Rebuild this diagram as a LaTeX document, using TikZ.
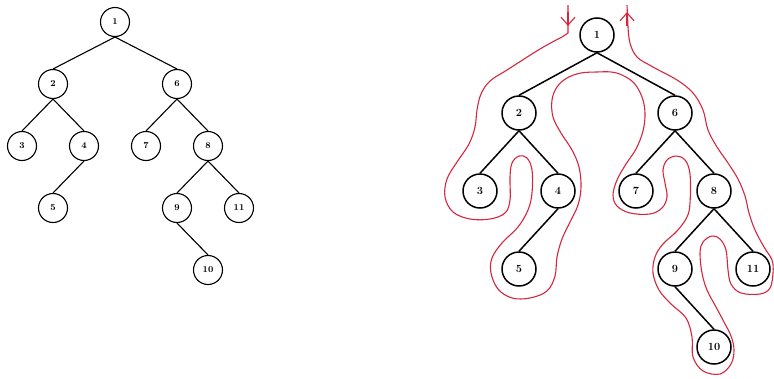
\documentclass[tikz,border=0pt]{standalone}
\usepackage{amsmath,amssymb}
\usepackage{tikz}
\usetikzlibrary{arrows.meta, positioning}
\definecolor{tourred}{RGB}{214,38,62}

\begin{document}
\begin{tikzpicture}[
    x=1pt, y=-1pt,
    on grid,
    vertex/.style={circle, draw=black, line width=1.1pt, minimum size=29pt, inner sep=0pt, font=\fontsize{9}{10}\selectfont\bfseries},
    bigvertex/.style={circle, draw=black, line width=1.5pt, minimum size=34pt, inner sep=0pt, font=\fontsize{11}{12}\selectfont\bfseries},
    link/.style={line width=1.1pt},
    biglink/.style={line width=1.5pt},
    tour/.style={draw=tourred, line width=1.1pt},
    tourtip/.style={tour, -{Straight Barb[length=8pt,width=14pt]}}
]
\useasboundingbox (0,0) rectangle (774,378);

% Left tree
\begin{scope}[node distance=62pt and 31pt]
\node [vertex] (a1) at (115,22) {1};
\node [vertex, below left=62pt and 62pt of a1] (a2) {2};
\node [vertex, below right=62pt and 62pt of a1] (a6) {6};
\node [vertex, below left=of a2] (a3) {3};
\node [vertex, below right=of a2] (a4) {4};
\node [vertex, below left=of a4] (a5) {5};
\node [vertex, below left=of a6] (a7) {7};
\node [vertex, below right=of a6] (a8) {8};
\node [vertex, below left=of a8] (a9) {9};
\node [vertex, below right=of a8] (a11) {11};
\node [vertex, below right=of a9] (a10) {10};
\end{scope}

\draw [link] (a1.south) -- (a2.north);
\draw [link] (a1.south) -- (a6.north);
\draw [link] (a2.south) -- (a3.north);
\draw [link] (a2.south) -- (a4.north);
\draw [link] (a4.south) -- (a5.north);
\draw [link] (a6.south) -- (a7.north);
\draw [link] (a6.south) -- (a8.north);
\draw [link] (a8.south) -- (a9.north);
\draw [link] (a8.south) -- (a11.north);
\draw [link] (a9.south) -- (a10.north);

% Right tree
\begin{scope}[node distance=78pt and 39pt]
\node [bigvertex] (b1) at (597,35) {1};
\node [bigvertex, below left=78pt and 78pt of b1] (b2) {2};
\node [bigvertex, below right=78pt and 78pt of b1] (b6) {6};
\node [bigvertex, below left=of b2] (b3) {3};
\node [bigvertex, below right=of b2] (b4) {4};
\node [bigvertex, below left=of b4] (b5) {5};
\node [bigvertex, below left=of b6] (b7) {7};
\node [bigvertex, below right=of b6] (b8) {8};
\node [bigvertex, below left=of b8] (b9) {9};
\node [bigvertex, below right=of b8] (b11) {11};
\node [bigvertex, below right=of b9] (b10) {10};
\end{scope}

\draw [biglink] (b1.south) -- (b2.north);
\draw [biglink] (b1.south) -- (b6.north);
\draw [biglink] (b2.south) -- (b3.north);
\draw [biglink] (b2.south) -- (b4.north);
\draw [biglink] (b4.south) -- (b5.north);
\draw [biglink] (b6.south) -- (b7.north);
\draw [biglink] (b6.south) -- (b8.north);
\draw [biglink] (b8.south) -- (b9.north);
\draw [biglink] (b8.south) -- (b11.north);
\draw [biglink] (b9.south) -- (b10.north);

% Euler tour round the right tree
\coordinate (tin) at (568,5);
\coordinate (tout) at (627,5);
\draw [tour] (tin) -- (568,33) -- plot [smooth, tension=0.6] coordinates {
    (562,37) (540,49) (507,70) (490,81) (481,94) (477,110) (475,127) (469,144)
    (457,162) (447,179) (445,197) (453,212) (470,219) (490,219) (505,213)
    (510,200) (510,177) (512,163) (519,156) (527,158) (532,170) (532,193)
    (528,210) (518,227) (502,243) (492,258) (491,273) (498,289) (512,298)
    (530,298) (547,291) (555,276) (557,257) (562,239) (570,222) (578,205)
    (581,187) (579,167) (572,150) (561,133) (553,117) (552,100) (557,87)
    (567,78) (581,73) (597,72) (611,72) (622,75) (634,83) (642,97) (645,113)
    (643,131) (636,149) (626,164) (617,180) (613,195) (617,206) (630,213)
    (650,214) (662,208) (667,197) (665,183) (663,170) (667,160) (676,156)
    (685,160) (690,174) (690,203) (687,217) (677,231) (663,244) (655,257)
    (653,273) (659,290) (671,304) (686,318) (692,337) (693,357) (703,371)
    (720,374) (731,364) (734,350) (731,336) (724,322) (716,307) (707,290)
    (702,273) (700,253) (703,242) (712,236) (720,239) (726,250) (728,270)
    (731,284) (741,293) (760,294) (770,288) (773,273) (772,260) (764,247)
    (755,230) (749,213) (745,196) (738,179) (728,163) (717,147) (708,130)
    (703,110) (693,93) (677,80) (653,67) (637,57) (630,43) (628,27)
} -- (tout);
\draw [tourtip] (568,12) -- (568,26);
\draw [tourtip] (627,26) -- (627,12);
\end{tikzpicture}
\end{document}
